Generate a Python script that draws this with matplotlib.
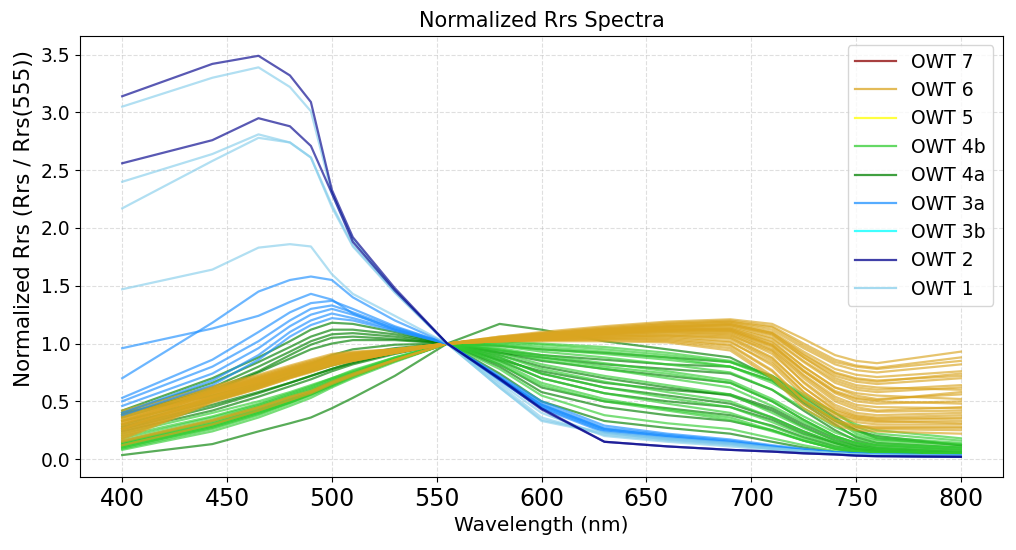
import matplotlib
matplotlib.use("Agg")
import matplotlib.pyplot as plt
from matplotlib.lines import Line2D

# Wavelength grid (nm) on which each spectrum was read
wavelengths = [400, 443, 465, 480, 490, 500, 510, 530, 555, 580,
               600, 630, 660, 690, 710, 725, 740, 750, 760, 800]

# OWT 6 (goldenrod)
owt6 = [
    [0.42, 0.63, 0.73, 0.81, 0.86, 0.91, 0.93, 0.95, 1.0, 1.06, 1.10, 1.15, 1.19, 1.21, 1.17, 1.04, 0.90, 0.85, 0.83, 0.93],
    [0.38, 0.61, 0.71, 0.79, 0.84, 0.89, 0.92, 0.95, 1.0, 1.06, 1.09, 1.14, 1.18, 1.20, 1.15, 1.00, 0.86, 0.81, 0.79, 0.88],
    [0.35, 0.59, 0.70, 0.78, 0.83, 0.88, 0.91, 0.94, 1.0, 1.05, 1.09, 1.13, 1.17, 1.19, 1.12, 0.96, 0.82, 0.77, 0.75, 0.82],
    [0.33, 0.58, 0.69, 0.77, 0.82, 0.87, 0.90, 0.94, 1.0, 1.05, 1.08, 1.12, 1.16, 1.18, 1.10, 0.93, 0.78, 0.73, 0.71, 0.76],
    [0.30, 0.57, 0.67, 0.76, 0.81, 0.86, 0.89, 0.94, 1.0, 1.05, 1.08, 1.12, 1.15, 1.16, 1.07, 0.88, 0.72, 0.67, 0.65, 0.70],
    [0.28, 0.55, 0.66, 0.75, 0.80, 0.85, 0.88, 0.93, 1.0, 1.04, 1.07, 1.11, 1.14, 1.15, 1.05, 0.85, 0.68, 0.62, 0.60, 0.64],
    [0.36, 0.60, 0.70, 0.78, 0.83, 0.88, 0.91, 0.94, 1.0, 1.04, 1.07, 1.10, 1.13, 1.13, 1.01, 0.80, 0.62, 0.55, 0.52, 0.56],
    [0.25, 0.54, 0.65, 0.73, 0.79, 0.84, 0.87, 0.93, 1.0, 1.04, 1.06, 1.10, 1.12, 1.12, 0.99, 0.76, 0.57, 0.50, 0.48, 0.50],
    [0.32, 0.58, 0.68, 0.76, 0.81, 0.87, 0.90, 0.94, 1.0, 1.04, 1.06, 1.09, 1.11, 1.10, 0.95, 0.72, 0.52, 0.45, 0.42, 0.45],
    [0.22, 0.52, 0.63, 0.72, 0.77, 0.83, 0.86, 0.92, 1.0, 1.03, 1.05, 1.08, 1.10, 1.08, 0.91, 0.67, 0.47, 0.40, 0.38, 0.40],
    [0.30, 0.57, 0.67, 0.76, 0.81, 0.86, 0.89, 0.94, 1.0, 1.03, 1.05, 1.07, 1.08, 1.06, 0.88, 0.62, 0.43, 0.37, 0.35, 0.36],
    [0.20, 0.51, 0.62, 0.71, 0.76, 0.82, 0.86, 0.92, 1.0, 1.03, 1.04, 1.06, 1.07, 1.04, 0.85, 0.58, 0.39, 0.34, 0.32, 0.33],
    [0.27, 0.55, 0.66, 0.74, 0.79, 0.85, 0.88, 0.93, 1.0, 1.03, 1.04, 1.05, 1.06, 1.02, 0.81, 0.55, 0.37, 0.32, 0.30, 0.30],
    [0.18, 0.50, 0.61, 0.70, 0.76, 0.81, 0.85, 0.92, 1.0, 1.02, 1.03, 1.04, 1.04, 0.99, 0.77, 0.51, 0.34, 0.29, 0.28, 0.28],
    [0.34, 0.59, 0.69, 0.77, 0.82, 0.88, 0.90, 0.94, 1.0, 1.03, 1.06, 1.10, 1.14, 1.16, 1.08, 0.88, 0.70, 0.64, 0.62, 0.60],
    [0.24, 0.53, 0.64, 0.73, 0.78, 0.84, 0.87, 0.93, 1.0, 1.04, 1.07, 1.11, 1.15, 1.17, 1.09, 0.91, 0.75, 0.70, 0.68, 0.72],
    [0.15, 0.33, 0.44, 0.53, 0.58, 0.66, 0.73, 0.86, 1.0, 1.02, 1.03, 1.03, 1.02, 0.96, 0.72, 0.47, 0.31, 0.27, 0.26, 0.25],
    [0.26, 0.54, 0.65, 0.74, 0.79, 0.84, 0.88, 0.93, 1.0, 1.03, 1.05, 1.08, 1.12, 1.13, 1.02, 0.80, 0.62, 0.57, 0.55, 0.52],
    [0.40, 0.62, 0.72, 0.80, 0.85, 0.90, 0.92, 0.95, 1.0, 1.05, 1.08, 1.13, 1.17, 1.19, 1.14, 0.98, 0.84, 0.80, 0.78, 0.85],
    [0.21, 0.52, 0.63, 0.71, 0.77, 0.82, 0.86, 0.92, 1.0, 1.03, 1.05, 1.07, 1.09, 1.07, 0.93, 0.66, 0.45, 0.38, 0.36, 0.38],
    [0.29, 0.56, 0.67, 0.75, 0.80, 0.86, 0.89, 0.93, 1.0, 1.04, 1.06, 1.09, 1.12, 1.11, 0.97, 0.73, 0.54, 0.47, 0.45, 0.44],
    [0.17, 0.49, 0.61, 0.70, 0.75, 0.81, 0.85, 0.92, 1.0, 1.02, 1.04, 1.05, 1.05, 1.01, 0.83, 0.58, 0.40, 0.35, 0.33, 0.31],
    [0.12, 0.30, 0.42, 0.51, 0.57, 0.65, 0.72, 0.85, 1.0, 1.02, 1.02, 1.02, 1.01, 0.94, 0.70, 0.44, 0.29, 0.25, 0.24, 0.22],
    [0.31, 0.57, 0.68, 0.76, 0.81, 0.86, 0.89, 0.94, 1.0, 1.05, 1.08, 1.12, 1.15, 1.17, 1.09, 0.90, 0.74, 0.69, 0.67, 0.74],
    [0.23, 0.53, 0.64, 0.72, 0.78, 0.83, 0.87, 0.92, 1.0, 1.03, 1.05, 1.08, 1.10, 1.09, 0.94, 0.70, 0.50, 0.43, 0.41, 0.42],
    [0.37, 0.60, 0.71, 0.79, 0.84, 0.89, 0.91, 0.95, 1.0, 1.04, 1.07, 1.11, 1.14, 1.14, 1.04, 0.84, 0.66, 0.60, 0.58, 0.62],
    [0.19, 0.50, 0.62, 0.71, 0.76, 0.82, 0.85, 0.92, 1.0, 1.02, 1.04, 1.06, 1.07, 1.05, 0.87, 0.62, 0.42, 0.36, 0.34, 0.35],
    [0.26, 0.54, 0.65, 0.74, 0.79, 0.84, 0.88, 0.93, 1.0, 1.04, 1.06, 1.09, 1.11, 1.11, 0.98, 0.76, 0.58, 0.52, 0.50, 0.48],
    [0.16, 0.34, 0.45, 0.54, 0.59, 0.67, 0.74, 0.86, 1.0, 1.02, 1.03, 1.04, 1.03, 0.98, 0.76, 0.50, 0.33, 0.28, 0.27, 0.27],
    [0.33, 0.58, 0.69, 0.77, 0.82, 0.87, 0.90, 0.94, 1.0, 1.04, 1.07, 1.11, 1.13, 1.12, 0.99, 0.77, 0.59, 0.53, 0.51, 0.58],
]

# OWT 4a (green)
owt4a = [
    [0.035, 0.13, 0.24, 0.31, 0.36, 0.44, 0.53, 0.72, 1.0, 1.17, 1.12, 1.02, 0.95, 0.88, 0.70, 0.50, 0.33, 0.25, 0.20, 0.12],
    [0.42, 0.70, 0.88, 1.02, 1.12, 1.18, 1.17, 1.10, 1.0, 0.92, 0.85, 0.78, 0.72, 0.66, 0.50, 0.34, 0.20, 0.14, 0.10, 0.06],
    [0.40, 0.66, 0.84, 0.97, 1.06, 1.12, 1.12, 1.08, 1.0, 0.90, 0.80, 0.70, 0.62, 0.55, 0.42, 0.28, 0.16, 0.11, 0.08, 0.05],
    [0.38, 0.62, 0.80, 0.93, 1.02, 1.08, 1.09, 1.06, 1.0, 0.88, 0.74, 0.62, 0.55, 0.48, 0.36, 0.24, 0.14, 0.09, 0.07, 0.05],
    [0.36, 0.58, 0.75, 0.87, 0.95, 1.00, 1.03, 1.03, 1.0, 0.92, 0.88, 0.82, 0.78, 0.74, 0.60, 0.42, 0.25, 0.16, 0.12, 0.08],
    [0.40, 0.55, 0.65, 0.75, 0.82, 0.90, 0.95, 0.99, 1.0, 0.98, 0.95, 0.92, 0.88, 0.84, 0.72, 0.54, 0.36, 0.25, 0.18, 0.12],
    [0.30, 0.50, 0.62, 0.72, 0.78, 0.85, 0.90, 0.96, 1.0, 0.85, 0.70, 0.57, 0.50, 0.45, 0.34, 0.22, 0.14, 0.09, 0.07, 0.04],
    [0.33, 0.52, 0.64, 0.71, 0.76, 0.81, 0.86, 0.93, 1.0, 0.82, 0.62, 0.50, 0.44, 0.38, 0.29, 0.19, 0.11, 0.08, 0.06, 0.04],
    [0.26, 0.45, 0.57, 0.66, 0.72, 0.78, 0.84, 0.92, 1.0, 0.94, 0.90, 0.86, 0.82, 0.80, 0.68, 0.48, 0.30, 0.19, 0.14, 0.10],
    [0.28, 0.47, 0.58, 0.66, 0.72, 0.78, 0.83, 0.92, 1.0, 0.80, 0.58, 0.45, 0.38, 0.33, 0.25, 0.16, 0.09, 0.06, 0.05, 0.03],
    [0.38, 0.60, 0.76, 0.90, 0.99, 1.05, 1.06, 1.04, 1.0, 0.86, 0.76, 0.66, 0.60, 0.56, 0.44, 0.30, 0.18, 0.12, 0.09, 0.06],
    [0.24, 0.42, 0.54, 0.63, 0.69, 0.76, 0.82, 0.91, 1.0, 0.74, 0.50, 0.33, 0.27, 0.22, 0.15, 0.10, 0.06, 0.05, 0.04, 0.03],
]

# OWT 4b (limegreen)
owt4b = [
    [0.10, 0.28, 0.40, 0.49, 0.56, 0.64, 0.72, 0.85, 1.0, 1.02, 1.00, 0.97, 0.92, 0.85, 0.72, 0.56, 0.40, 0.28, 0.22, 0.16],
    [0.12, 0.30, 0.42, 0.51, 0.58, 0.66, 0.73, 0.86, 1.0, 1.00, 0.97, 0.93, 0.88, 0.80, 0.66, 0.50, 0.34, 0.24, 0.19, 0.14],
    [0.14, 0.32, 0.44, 0.53, 0.59, 0.67, 0.74, 0.86, 1.0, 0.98, 0.93, 0.88, 0.82, 0.75, 0.60, 0.44, 0.28, 0.20, 0.16, 0.12],
    [0.16, 0.34, 0.46, 0.55, 0.61, 0.68, 0.75, 0.87, 1.0, 0.96, 0.90, 0.83, 0.76, 0.68, 0.52, 0.37, 0.23, 0.17, 0.14, 0.10],
    [0.09, 0.26, 0.38, 0.48, 0.55, 0.63, 0.71, 0.85, 1.0, 0.94, 0.86, 0.78, 0.70, 0.62, 0.46, 0.32, 0.19, 0.14, 0.12, 0.09],
    [0.18, 0.36, 0.47, 0.56, 0.62, 0.69, 0.75, 0.87, 1.0, 0.92, 0.82, 0.72, 0.64, 0.56, 0.40, 0.27, 0.16, 0.12, 0.10, 0.08],
    [0.11, 0.28, 0.40, 0.49, 0.56, 0.64, 0.72, 0.85, 1.0, 0.90, 0.78, 0.67, 0.58, 0.50, 0.36, 0.24, 0.14, 0.10, 0.09, 0.07],
    [0.20, 0.37, 0.48, 0.57, 0.63, 0.70, 0.76, 0.88, 1.0, 0.88, 0.74, 0.62, 0.53, 0.45, 0.32, 0.21, 0.12, 0.09, 0.08, 0.06],
    [0.13, 0.30, 0.42, 0.51, 0.58, 0.65, 0.73, 0.86, 1.0, 0.86, 0.70, 0.57, 0.48, 0.40, 0.28, 0.18, 0.10, 0.08, 0.07, 0.05],
    [0.08, 0.24, 0.36, 0.46, 0.53, 0.62, 0.70, 0.84, 1.0, 0.84, 0.66, 0.52, 0.43, 0.36, 0.25, 0.16, 0.09, 0.07, 0.06, 0.05],
    [0.15, 0.33, 0.45, 0.54, 0.60, 0.67, 0.74, 0.86, 1.0, 0.99, 0.95, 0.91, 0.86, 0.80, 0.68, 0.54, 0.40, 0.30, 0.25, 0.18],
    [0.22, 0.40, 0.50, 0.58, 0.64, 0.70, 0.77, 0.88, 1.0, 0.82, 0.64, 0.50, 0.42, 0.34, 0.24, 0.16, 0.09, 0.06, 0.05, 0.04],
    [0.12, 0.29, 0.41, 0.50, 0.57, 0.65, 0.73, 0.86, 1.0, 1.01, 0.99, 0.95, 0.90, 0.84, 0.70, 0.52, 0.34, 0.22, 0.17, 0.13],
    [0.10, 0.27, 0.39, 0.49, 0.56, 0.64, 0.72, 0.85, 1.0, 0.95, 0.88, 0.80, 0.74, 0.66, 0.50, 0.34, 0.20, 0.14, 0.12, 0.10],
    [0.14, 0.31, 0.43, 0.52, 0.58, 0.66, 0.73, 0.86, 1.0, 0.78, 0.55, 0.38, 0.31, 0.26, 0.18, 0.12, 0.07, 0.05, 0.05, 0.04],
]

# OWT 3a (dodgerblue)
owt3a = [
    [0.96, 1.13, 1.24, 1.36, 1.43, 1.38, 1.26, 1.12, 1.0, 0.70, 0.47, 0.26, 0.20, 0.15, 0.11, 0.08, 0.06, 0.05, 0.04, 0.03],
    [0.70, 1.18, 1.45, 1.55, 1.58, 1.55, 1.40, 1.20, 1.0, 0.70, 0.46, 0.25, 0.19, 0.14, 0.10, 0.07, 0.05, 0.04, 0.04, 0.03],
    [0.53, 0.86, 1.10, 1.27, 1.35, 1.37, 1.30, 1.15, 1.0, 0.71, 0.48, 0.27, 0.21, 0.16, 0.11, 0.08, 0.06, 0.05, 0.04, 0.03],
    [0.50, 0.80, 1.02, 1.20, 1.30, 1.33, 1.27, 1.14, 1.0, 0.70, 0.47, 0.26, 0.20, 0.15, 0.11, 0.08, 0.05, 0.04, 0.04, 0.03],
    [0.46, 0.74, 0.96, 1.15, 1.25, 1.30, 1.25, 1.13, 1.0, 0.69, 0.45, 0.24, 0.18, 0.14, 0.10, 0.07, 0.05, 0.04, 0.03, 0.03],
    [0.40, 0.68, 0.90, 1.10, 1.20, 1.26, 1.22, 1.12, 1.0, 0.68, 0.44, 0.23, 0.17, 0.13, 0.09, 0.07, 0.05, 0.04, 0.03, 0.02],
    [0.38, 0.64, 0.86, 1.06, 1.16, 1.22, 1.20, 1.11, 1.0, 0.72, 0.50, 0.29, 0.22, 0.17, 0.12, 0.09, 0.06, 0.05, 0.04, 0.03],
]

# OWT 1 (skyblue)
owt1 = [
    [3.05, 3.30, 3.39, 3.22, 3.01, 2.30, 1.90, 1.46, 1.0, 0.66, 0.40, 0.20, 0.15, 0.11, 0.08, 0.06, 0.05, 0.04, 0.03, 0.02],
    [2.40, 2.64, 2.81, 2.74, 2.61, 2.20, 1.85, 1.45, 1.0, 0.64, 0.36, 0.21, 0.16, 0.12, 0.09, 0.07, 0.05, 0.04, 0.03, 0.02],
    [2.17, 2.58, 2.78, 2.74, 2.61, 2.18, 1.84, 1.44, 1.0, 0.62, 0.33, 0.22, 0.17, 0.13, 0.09, 0.07, 0.05, 0.04, 0.03, 0.02],
    [1.47, 1.64, 1.83, 1.86, 1.84, 1.60, 1.43, 1.24, 1.0, 0.62, 0.34, 0.23, 0.18, 0.14, 0.10, 0.07, 0.05, 0.04, 0.04, 0.03],
]

# OWT 2 (darkblue)
owt2 = [
    [3.14, 3.42, 3.49, 3.32, 3.09, 2.33, 1.92, 1.48, 1.0, 0.70, 0.44, 0.15, 0.11, 0.08, 0.065, 0.05, 0.04, 0.03, 0.025, 0.02],
    [2.56, 2.76, 2.95, 2.88, 2.71, 2.30, 1.88, 1.46, 1.0, 0.69, 0.43, 0.15, 0.11, 0.08, 0.065, 0.05, 0.04, 0.03, 0.025, 0.02],
]

groups = [
    ("OWT 4a", "green", owt4a),
    ("OWT 4b", "limegreen", owt4b),
    ("OWT 6", "goldenrod", owt6),
    ("OWT 3a", "dodgerblue", owt3a),
    ("OWT 1", "skyblue", owt1),
    ("OWT 2", "darkblue", owt2),
]

legend_labels = ["OWT 7", "OWT 6", "OWT 5", "OWT 4b", "OWT 4a", "OWT 3a", "OWT 3b", "OWT 2", "OWT 1"]
legend_colors = ["darkred", "goldenrod", "yellow", "limegreen", "green", "dodgerblue", "cyan", "darkblue", "skyblue"]

fig, ax = plt.subplots(figsize=(10.16, 5.5), dpi=100)
for label, color, spectra in groups:
    for s in spectra:
        ax.plot(wavelengths, s, color=color, alpha=0.65, linewidth=1.6)

handles = [Line2D([0], [0], color=c, alpha=0.75, linewidth=1.6) for c in legend_colors]
ax.legend(handles, legend_labels, loc="upper right", fontsize=13.5,
          labelspacing=0.5, handlelength=2.2)

ax.set_title("Normalized Rrs Spectra", fontsize=15)
ax.set_xlabel("Wavelength (nm)", fontsize=14.5)
ax.set_ylabel("Normalized Rrs (Rrs / Rrs(555))", fontsize=15.5)
ax.yaxis.set_label_coords(-0.05, 0.585)
ax.set_xticks([400, 450, 500, 550, 600, 650, 700, 750, 800])
ax.set_yticks([0.0, 0.5, 1.0, 1.5, 2.0, 2.5, 3.0, 3.5])
ax.tick_params(axis="x", labelsize=17)
ax.tick_params(axis="y", labelsize=13.5)
ax.grid(True, linestyle="--", alpha=0.4)
fig.subplots_adjust(left=0.079, right=0.987, top=0.935, bottom=0.133)
fig.savefig("out.png", dpi=100)
